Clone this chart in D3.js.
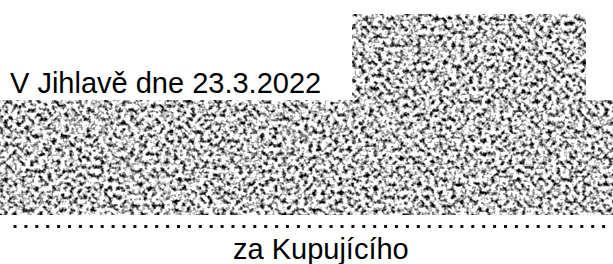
<!DOCTYPE html>
<html>
<head>
<meta charset="utf-8">
<script src="https://cdn.jsdelivr.net/npm/d3@7"></script>
<style>
  html, body { margin: 0; padding: 0; background: #fff; }
  svg { display: block; }
</style>
</head>
<body>
<script>
var width = 613, height = 264

// texts on the page
var placeDate = ["V Jihlavě dne 23.3.2022"]
var signLabels = ["za Kupujícího"]
var dotCount = [55]

var svg = d3.select("body").append("svg")
            .attr("width", width)
            .attr("height", height)

var defs = svg.append("defs")

// grainy grey noise used for the scrambled parts of the scan
var noise = defs.append("filter")
                .attr("id", "grain")
                .attr("x", 0).attr("y", 0)
                .attr("width", 1).attr("height", 1)
                .attr("color-interpolation-filters", "sRGB")
noise.append("feTurbulence")
     .attr("type", "fractalNoise")
     .attr("baseFrequency", 0.23)
     .attr("numOctaves", 2)
     .attr("seed", 7)
     .attr("result", "t")
noise.append("feColorMatrix")
     .attr("type", "matrix")
     .attr("values", "1 0 0 0 0  1 0 0 0 0  1 0 0 0 0  0 0 0 0 1")
     .attr("result", "g")
var ct = noise.append("feComponentTransfer").attr("result", "c")
ct.append("feFuncR").attr("type", "linear").attr("slope", 3.0).attr("intercept", -0.72)
ct.append("feFuncG").attr("type", "linear").attr("slope", 3.0).attr("intercept", -0.72)
ct.append("feFuncB").attr("type", "linear").attr("slope", 3.0).attr("intercept", -0.72)
noise.append("feComposite")
     .attr("in", "c").attr("in2", "SourceGraphic")
     .attr("operator", "in")

// scrambled areas
var blocks = svg.append("g").attr("id", "blocks")
blocks.append("rect")
      .attr("x", 352).attr("y", 14)
      .attr("width", 234).attr("height", 87)
      .style("fill", "#fff")
      .attr("filter", "url(#grain)")
blocks.append("rect")
      .attr("x", 0).attr("y", 100)
      .attr("width", width).attr("height", 115)
      .style("fill", "#fff")
      .attr("filter", "url(#grain)")
// faint seam in the scan
blocks.append("line")
      .attr("x1", 340).attr("y1", 165.5)
      .attr("x2", width).attr("y2", 165.5)
      .style("stroke", "#fff")
      .style("stroke-opacity", 0.45)
      .style("stroke-width", 1)

svg.selectAll("text.place")
   .data(placeDate)
   .enter().append("text")
   .attr("class", "place")
   .attr("x", 10)
   .attr("y", 93)
   .style("font-family", "'Liberation Sans', Arial, sans-serif")
   .style("font-size", "29px")
   .style("fill", "#000")
   .text(function(d) { return d })

// dotted signature line
var xDots = d3.scaleLinear()
              .domain([0, dotCount[0] - 1])
              .range([15, 15 + 10.9 * (dotCount[0] - 1)])

svg.append("g").selectAll("rect")
   .data(d3.range(dotCount[0]))
   .enter().append("rect")
   .attr("x", function(d) { return xDots(d) - 1.5 })
   .attr("y", 225)
   .attr("width", 3)
   .attr("height", 3)
   .style("fill", "#111")

svg.selectAll("text.sign")
   .data(signLabels)
   .enter().append("text")
   .attr("class", "sign")
   .attr("x", 233)
   .attr("y", 259)
   .style("font-family", "'Liberation Sans', Arial, sans-serif")
   .style("font-size", "29px")
   .style("fill", "#000")
   .text(function(d) { return d })
</script>
</body>
</html>
